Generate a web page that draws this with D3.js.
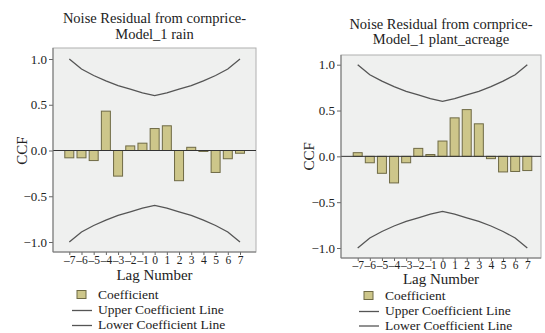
<!DOCTYPE html>
<html>
<head>
<meta charset="utf-8">
<script src="https://cdn.jsdelivr.net/npm/d3@7/dist/d3.min.js"></script>
<style>
  html, body { margin: 0; padding: 0; background: #ffffff; }
  svg, svg text { font-family: "Liberation Serif", "Times New Roman", "DejaVu Serif", serif !important; }
</style>
</head>
<body>
<svg id="chart" width="545" height="333"></svg>
<script>
// Lags shown on both cross-correlation plots
const lags = [-7, -6, -5, -4, -3, -2, -1, 0, 1, 2, 3, 4, 5, 6, 7];

// Cross-correlation coefficients of the noise residual with each input
const rainCCF = [-0.08, -0.08, -0.11, 0.43, -0.28, 0.05, 0.08, 0.24, 0.27, -0.33, 0.035, -0.01, -0.24, -0.09, -0.03];
const acreageCCF = [0.04, -0.07, -0.185, -0.29, -0.07, 0.087, 0.02, 0.167, 0.42, 0.51, 0.355, -0.025, -0.17, -0.165, -0.155];

// Confidence limits per lag
const upperLimit = [1.00, 0.89, 0.82, 0.76, 0.71, 0.67, 0.63, 0.60, 0.63, 0.67, 0.71, 0.76, 0.82, 0.89, 1.00];
const lowerLimit = [-1.00, -0.89, -0.82, -0.76, -0.71, -0.67, -0.63, -0.60, -0.63, -0.67, -0.71, -0.76, -0.82, -0.89, -1.00];

const yTicks = [1.0, 0.5, 0.0, -0.5, -1.0];
const legendLabels = ["Coefficient", "Upper Coefficient Line", "Lower Coefficient Line"];
const rainTitle = ["Noise Residual from cornprice-", "Model_1 rain"];
const acreageTitle = ["Noise Residual from cornprice-", "Model_1 plant_acreage"];

// Panel layouts
const panels = [
  { title: rainTitle, values: rainCCF,
    frame: { left: 53, right: 256, top: 48, bottom: 252 },
    xRange: [69.3, 240], yRange: [242, 59],
    titleY: [23, 39], ccfX: 27, xLabelY: 264, lagLabelY: 280,
    legend: { x: 72, textX: 98, rows: [298.5, 314, 329] } },
  { title: acreageTitle, values: acreageCCF,
    frame: { left: 341, right: 541, top: 55, bottom: 258 },
    xRange: [357.7, 527.3], yRange: [248, 64.7],
    titleY: [29, 44], ccfX: 314, xLabelY: 269, lagLabelY: 284,
    legend: { x: 359, textX: 385, rows: [299.5, 315, 329.5] } }
];

const svg = d3.select("#chart");
const barFill = "#cdc68a", barStroke = "#6f6a45", limitColor = "#555555";
const minus = s => String(s).replace("-", "\u2013");

panels.forEach(p => {
  const g = svg.append("g");
  const x = d3.scaleLinear().domain([-7, 7]).range(p.xRange);
  const y = d3.scaleLinear().domain([-1, 1]).range(p.yRange);
  const f = p.frame;
  const cx = (f.left + f.right) / 2;

  // Title
  g.selectAll("text.title").data(p.title).join("text")
    .attr("class", "title")
    .attr("x", cx).attr("y", (d, i) => p.titleY[i])
    .attr("text-anchor", "middle").attr("font-size", 14.5).attr("fill", "#222")
    .text(d => d);

  // Plot background
  g.append("rect")
    .attr("x", f.left).attr("y", f.top)
    .attr("width", f.right - f.left).attr("height", f.bottom - f.top)
    .attr("fill", "#eff0ef").attr("stroke", "#b0b0b0").attr("stroke-width", 1);

  // Bars
  const bw = 9;
  g.selectAll("rect.bar").data(p.values).join("rect")
    .attr("class", "bar")
    .attr("x", (d, i) => x(lags[i]) - bw / 2)
    .attr("y", d => Math.min(y(d), y(0)))
    .attr("width", bw)
    .attr("height", d => Math.abs(y(d) - y(0)))
    .attr("fill", barFill).attr("stroke", barStroke).attr("stroke-width", 1);

  // Zero reference line
  g.append("line")
    .attr("x1", f.left).attr("x2", f.right)
    .attr("y1", y(0)).attr("y2", y(0))
    .attr("stroke", "#333").attr("stroke-width", 1);

  // Confidence limit lines
  const line = d3.line().x((d, i) => x(lags[i])).y(d => y(d));
  [upperLimit, lowerLimit].forEach(vals => {
    g.append("path").datum(vals)
      .attr("d", line).attr("fill", "none")
      .attr("stroke", limitColor).attr("stroke-width", 1.3);
  });

  // Y axis
  const yAxis = d3.axisLeft(y).tickValues(yTicks).tickSize(4).tickPadding(2)
    .tickFormat(d => minus(d3.format(".1f")(d)));
  const ya = g.append("g").attr("transform", `translate(${f.left},0)`).call(yAxis);
  ya.select(".domain").remove();
  ya.selectAll("line").attr("stroke", "#666");
  ya.selectAll("text").attr("font-size", 13).attr("fill", "#222");

  // X axis
  const xAxis = d3.axisBottom(x).tickValues(lags).tickSize(3).tickPadding(1)
    .tickFormat(d => minus(d));
  const xa = g.append("g").attr("transform", `translate(0,${f.bottom})`).call(xAxis);
  xa.select(".domain").remove();
  xa.selectAll("line").attr("stroke", "#666");
  xa.selectAll("text").attr("font-size", 11.5).attr("fill", "#222")
    .attr("dy", null).attr("y", p.xLabelY - f.bottom);

  // Axis frame edges
  g.append("line").attr("x1", f.left).attr("x2", f.left).attr("y1", f.top).attr("y2", f.bottom)
    .attr("stroke", "#777");
  g.append("line").attr("x1", f.left).attr("x2", f.right).attr("y1", f.bottom).attr("y2", f.bottom)
    .attr("stroke", "#777");

  // Axis titles
  g.append("text").attr("x", cx).attr("y", p.lagLabelY)
    .attr("text-anchor", "middle").attr("font-size", 15).attr("fill", "#222")
    .text("Lag Number");
  g.append("text")
    .attr("transform", `translate(${p.ccfX},${y(0)}) rotate(-90)`)
    .attr("text-anchor", "middle").attr("font-size", 15).attr("fill", "#222")
    .text("CCF");

  // Legend
  const L = p.legend;
  g.append("rect").attr("x", L.x + 5).attr("y", L.rows[0] - 8).attr("width", 9).attr("height", 8)
    .attr("fill", barFill).attr("stroke", barStroke);
  [1, 2].forEach(i => {
    g.append("line").attr("x1", L.x).attr("x2", L.x + 20)
      .attr("y1", L.rows[i] - 3.5).attr("y2", L.rows[i] - 3.5)
      .attr("stroke", limitColor).attr("stroke-width", 1.3);
  });
  g.selectAll("text.leg").data(legendLabels).join("text")
    .attr("class", "leg")
    .attr("x", L.textX).attr("y", (d, i) => L.rows[i])
    .attr("font-size", 13.5).attr("fill", "#222")
    .text(d => d);
});
</script>
</body>
</html>
